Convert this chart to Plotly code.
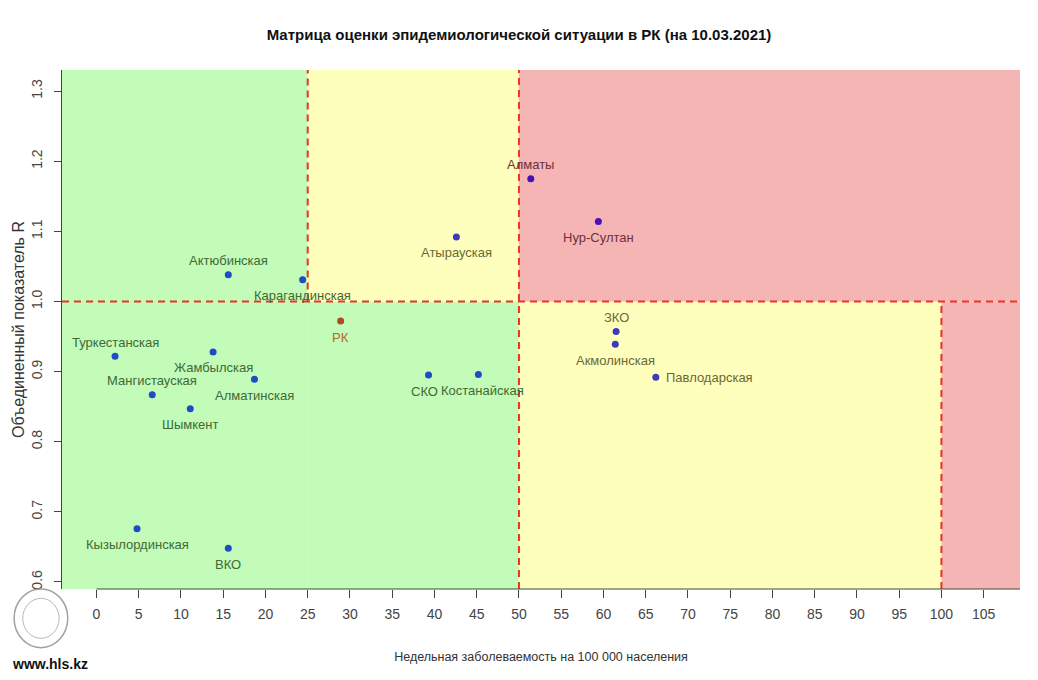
import plotly.graph_objects as go

# ---- data ----
regions = ["Алматы", "Нур-Султан", "Атырауская", "Актюбинская", "Карагандинская", "РК",
           "Туркестанская", "Жамбылская", "Алматинская", "Мангистауская", "Шымкент",
           "Кызылординская", "ВКО", "СКО", "Костанайская", "ЗКО", "Акмолинская", "Павлодарская"]
incidence = [51.4, 59.4, 42.6, 15.6, 24.4, 28.9,
             2.2, 13.8, 18.7, 6.6, 11.1,
             4.8, 15.6, 39.3, 45.2, 61.5, 61.4, 66.2]
r_value = [1.175, 1.114, 1.092, 1.038, 1.031, 0.972,
           0.922, 0.928, 0.889, 0.867, 0.847,
           0.676, 0.648, 0.895, 0.896, 0.957, 0.939, 0.892]
label_pos = ["top", "bottom", "bottom", "top", "bottom", "bottom",
             "top", "bottom", "bottom", "top", "bottom",
             "bottom", "bottom", "bottom", "bottom", "top", "bottom", "right"]
label_nudge = {"СКО": -4, "Костанайская": 4}

x_ticks = list(range(0, 110, 5))
y_ticks = [0.6, 0.7, 0.8, 0.9, 1.0, 1.1, 1.2, 1.3]
x_range = [-4.08, 109.3]
y_range = [0.590, 1.330]
x_thr1, x_thr2, x_thr3, r_thr = 25, 50, 100, 1.0

FONT = "Liberation Sans, Arial, sans-serif"

GREEN = "#c3fbb9"
YELLOW = "#ffffbd"
RED = "#f5b5b5"


def zone(x, y):
    if x < x_thr1:
        return "g"
    if x < x_thr2:
        return "y" if y >= r_thr else "g"
    if x < x_thr3:
        return "r" if y >= r_thr else "y"
    return "r"


pt_col = {"g": "#1f4cc4", "y": "#3c3cb8", "r": "#4a10b8"}
lb_col = {"g": "#3e6a34", "y": "#6b6834", "r": "#6e303a"}

fig = go.Figure()

# background zones
zones = [
    (x_range[0], x_thr1, y_range[0], y_range[1], GREEN),
    (x_thr1, x_thr2, y_range[0], r_thr, GREEN),
    (x_thr1, x_thr2, r_thr, y_range[1], YELLOW),
    (x_thr2, x_thr3, y_range[0], r_thr, YELLOW),
    (x_thr2, x_range[1], r_thr, y_range[1], RED),
    (x_thr3, x_range[1], y_range[0], r_thr, RED),
]
for x0, x1, y0, y1, c in zones:
    fig.add_shape(type="rect", x0=x0, x1=x1, y0=y0, y1=y1, xref="x", yref="y",
                  fillcolor=c, line_width=0, layer="below")

dash = dict(color="#e8342a", width=2, dash="7px,5px")
fig.add_shape(type="line", x0=x_thr1, x1=x_thr1, y0=r_thr, y1=y_range[1], line=dash)
fig.add_shape(type="line", x0=x_thr2, x1=x_thr2, y0=y_range[0], y1=y_range[1], line=dash)
fig.add_shape(type="line", x0=x_thr3, x1=x_thr3, y0=y_range[0], y1=r_thr, line=dash)
fig.add_shape(type="line", x0=x_range[0], x1=x_range[1], y0=r_thr, y1=r_thr, line=dash)

# x axis line from 0 to the right edge (R style)
fig.add_shape(type="line", x0=0, x1=x_range[1], y0=0, y1=0, xref="x", yref="paper",
              line=dict(color="#3a4a3a", width=1))

colors = []
for name, x, y in zip(regions, incidence, r_value):
    if name == "РК":
        colors.append("#b04a20")
    else:
        colors.append(pt_col[zone(x, y)])

fig.add_trace(go.Scatter(x=incidence, y=r_value, mode="markers",
                         marker=dict(size=7, color=colors, line_width=0),
                         hoverinfo="text", text=regions, showlegend=False))

for name, x, y, pos in zip(regions, incidence, r_value, label_pos):
    col = "#b8652d" if name == "РК" else lb_col[zone(x, y)]
    kw = dict(x=x, y=y, text=name, showarrow=False,
              font=dict(family=FONT, size=13, color=col))
    if pos == "top":
        kw.update(yshift=14, xanchor="center", yanchor="middle")
    elif pos == "bottom":
        kw.update(yshift=-16, xanchor="center", yanchor="middle")
    else:
        kw.update(xshift=8, xanchor="left", yanchor="middle")
    if name in label_nudge:
        kw["xshift"] = label_nudge[name]
    fig.add_annotation(**kw)

# site label
fig.add_annotation(xref="paper", yref="paper", x=-0.0542, y=-0.145, xanchor="left",
                   yanchor="middle", text="<b>www.hls.kz</b>", showarrow=False,
                   font=dict(family=FONT, size=14, color="#111"))
# simple logo emblem outline
fig.add_shape(type="circle", xref="paper", yref="paper",
              x0=-0.050, x1=0.006, y0=-0.113, y1=0.0,
              line=dict(color="#a0a0a0", width=1.5))
fig.add_shape(type="circle", xref="paper", yref="paper",
              x0=-0.041, x1=-0.003, y0=-0.095, y1=-0.018,
              line=dict(color="#b8b8b8", width=1))

fig.update_layout(
    width=1022, height=664,
    margin=dict(l=52, r=10, t=62, b=81),
    paper_bgcolor="white", plot_bgcolor="white",
    font=dict(family=FONT, color="#333"),
    title=dict(text="<b>Матрица оценки эпидемиологической ситуации в РК (на 10.03.2021)</b>",
               x=0.5, xanchor="center", y=0.959, yanchor="middle",
               font=dict(family=FONT, size=15, color="#111")),
    xaxis=dict(range=x_range, tickvals=x_ticks, ticktext=[str(v) for v in x_ticks],
               showgrid=False, zeroline=False, showline=False,
               ticks="outside", ticklen=8, tickcolor="#3a4a3a", ticklabelstandoff=4,
               tickfont=dict(family=FONT, size=14, color="#444"),
               title=dict(text="Недельная заболеваемость на 100 000 населения",
                          font=dict(family=FONT, size=12.5, color="#333"), standoff=31)),
    yaxis=dict(range=y_range, tickvals=y_ticks, ticktext=[f"{v:.1f}" for v in y_ticks],
               showgrid=False, zeroline=False, showline=True, linecolor="#3a4a3a",
               ticks="outside", ticklen=7, tickcolor="#3a4a3a", tickangle=-90,
               ticklabelstandoff=6,
               tickfont=dict(family=FONT, size=14, color="#444"),
               title=dict(text="Объединенный показатель R",
                          font=dict(family=FONT, size=16, color="#333"), standoff=0)),
)

fig.write_html("out.html")
